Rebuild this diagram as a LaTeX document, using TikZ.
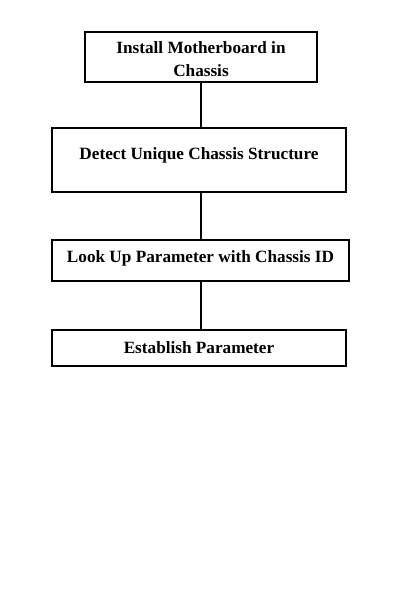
\documentclass[tikz,border=0pt]{standalone}
\usepackage{fontspec}
\setmainfont{Liberation Serif}
\begin{document}
\begin{tikzpicture}[x=1pt,y=-1pt,
  box/.style={draw, line width=1.8pt, rectangle, inner sep=0pt},
  lbl/.style={font=\fontsize{17.2}{22.5}\selectfont\bfseries, align=center, inner sep=0pt},
  conn/.style={line width=1.8pt}]
\useasboundingbox (0,0) rectangle (403,599);
\node[box, minimum width=232, minimum height=50] (b1) at (201,57) {};
\node[box, minimum width=294, minimum height=64] (b2) at (199,160) {};
\node[box, minimum width=297, minimum height=41] (b3) at (200.5,260.5) {};
\node[box, minimum width=294, minimum height=36] (b4) at (199,348) {};
\node[lbl] (t1) at (201,59) {Install Motherboard in\\Chassis};
\node[lbl] (t2) at (199,155) {Detect Unique Chassis Structure};
\node[lbl] (t3) at (200.5,258) {Look Up Parameter with Chassis ID};
\node[lbl] (t4) at (199,347.5) {Establish Parameter};
\draw[conn] (b1.south) -- (b1.south |- b2.north);
\draw[conn] (b2.south -| b1.south) -- (b3.north -| b1.south);
\draw[conn] (b3.south -| b1.south) -- (b4.north -| b1.south);
\end{tikzpicture}
\end{document}
